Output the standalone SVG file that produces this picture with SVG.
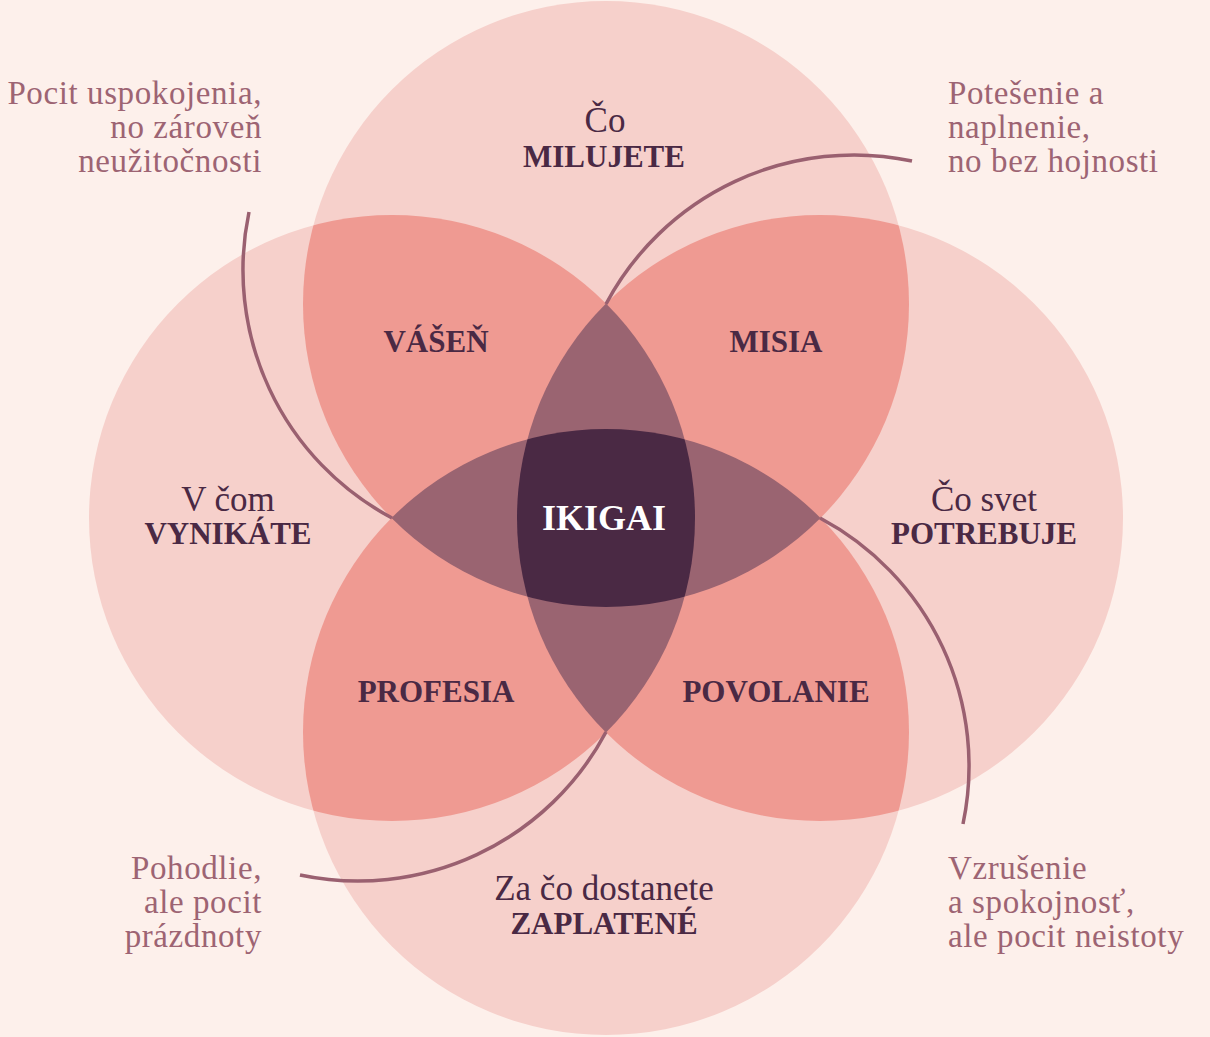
<svg xmlns="http://www.w3.org/2000/svg" width="1210" height="1037" viewBox="0 0 1210 1037">
<style>
.c1{fill:#f6d0cb}
.c2{fill:#ef9a92}
.c3{fill:#9a6471}
.c4{fill:#4a2944}
.note{font-family:"Liberation Serif","Times New Roman",serif;font-size:33px;letter-spacing:0.6px;fill:#9d6473}
.reg{font-family:"Liberation Serif","Times New Roman",serif;font-size:35px;fill:#4a2944;text-anchor:middle}
.b{font-size:31px;font-weight:bold;letter-spacing:0}
.bold{font-family:"Liberation Serif","Times New Roman",serif;font-size:31px;font-weight:bold;fill:#4a2944;text-anchor:middle}
.end{text-anchor:end}
.conn{fill:none;stroke:#9a6070;stroke-width:3.5;stroke-linecap:butt}
</style>
<defs>
<clipPath id="clipT"><circle cx="606" cy="304" r="303"/></clipPath>
<clipPath id="clipB"><circle cx="606" cy="732" r="303"/></clipPath>
<clipPath id="clipL"><circle cx="392" cy="518" r="303"/></clipPath>
<clipPath id="clipR"><circle cx="820" cy="518" r="303"/></clipPath>
</defs>
<rect width="1210" height="1037" fill="#fdf0eb"/>

<g id="node-milujete">
<circle class="c1" cx="606" cy="304" r="303"/>
</g>
<g id="node-vynikate">
<circle class="c1" cx="392" cy="518" r="303"/>
</g>
<g id="node-potrebuje">
<circle class="c1" cx="820" cy="518" r="303"/>
</g>
<g id="node-zaplatene">
<circle class="c1" cx="606" cy="732" r="303"/>
</g>

<g id="node-vasen">
<circle class="c2" cx="392" cy="518" r="303" clip-path="url(#clipT)"/>
</g>
<g id="node-misia">
<circle class="c2" cx="820" cy="518" r="303" clip-path="url(#clipT)"/>
</g>
<g id="node-profesia">
<circle class="c2" cx="392" cy="518" r="303" clip-path="url(#clipB)"/>
</g>
<g id="node-povolanie">
<circle class="c2" cx="820" cy="518" r="303" clip-path="url(#clipB)"/>
</g>
<g id="triple-overlaps">
<circle class="c3" cx="820" cy="518" r="303" clip-path="url(#clipL)"/>
<circle class="c3" cx="606" cy="732" r="303" clip-path="url(#clipT)"/>
</g>
<g id="node-ikigai">
<g clip-path="url(#clipL)"><g clip-path="url(#clipR)">
<circle class="c4" cx="606" cy="732" r="303" clip-path="url(#clipT)"/>
</g></g>
<text x="604" y="530" class="bold" style="font-size:36px;fill:#ffffff">IKIGAI</text>
</g>

<g id="connectors">
<path class="conn" d="M249,212 A281,281 0 0 0 392,518"/>
<path class="conn" d="M912,161 A281,281 0 0 0 606,304"/>
<path class="conn" d="M963,824 A281,281 0 0 0 820,518"/>
<path class="conn" d="M300,875 A281,281 0 0 0 606,732"/>
</g>

<g id="labels-circles">
<text class="reg" x="605" y="132">Čo<tspan class="b" x="604" dy="35">MILUJETE</tspan></text>
<text class="reg" x="228" y="511">V čom<tspan class="b" x="228" dy="33">VYNIKÁTE</tspan></text>
<text class="reg" x="984" y="511">Čo svet<tspan class="b" x="984" dy="33">POTREBUJE</tspan></text>
<text class="reg" x="604" y="900">Za čo dostanete<tspan class="b" x="604" dy="34">ZAPLATENÉ</tspan></text>
</g>
<g id="labels-overlaps">
<text x="436" y="352" class="bold">VÁŠEŇ</text>
<text x="776" y="352" class="bold">MISIA</text>
<text x="436" y="702" class="bold">PROFESIA</text>
<text x="776" y="702" class="bold">POVOLANIE</text>
</g>

<g id="note-top-left">
<text class="note end" x="262" y="104">Pocit uspokojenia,<tspan x="262" dy="34">no zároveň</tspan><tspan x="262" dy="34">neužitočnosti</tspan></text>
</g>
<g id="note-top-right">
<text class="note" x="948" y="104">Potešenie a<tspan x="948" dy="34">naplnenie,</tspan><tspan x="948" dy="34">no bez hojnosti</tspan></text>
</g>
<g id="note-bottom-left">
<text class="note end" x="262" y="879">Pohodlie,<tspan x="262" dy="34">ale pocit</tspan><tspan x="262" dy="34">prázdnoty</tspan></text>
</g>
<g id="note-bottom-right">
<text class="note" x="948" y="879">Vzrušenie<tspan x="948" dy="34">a spokojnosť,</tspan><tspan x="948" dy="34">ale pocit neistoty</tspan></text>
</g>
</svg>
